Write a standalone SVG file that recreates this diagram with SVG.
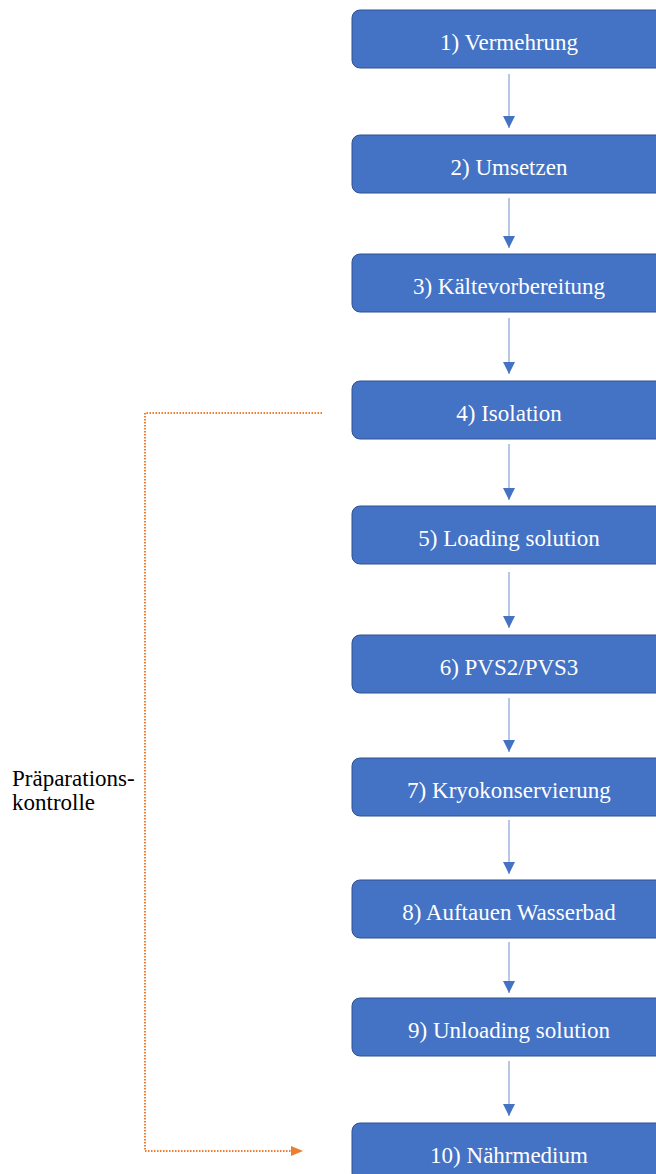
<svg xmlns="http://www.w3.org/2000/svg" width="656" height="1174" viewBox="0 0 656 1174">
<style>
.box{fill:#4472C4;stroke:#2F528F;stroke-width:1}
.lbl{fill:#FFFFFF;text-anchor:middle}
.side{fill:#000000}
.flow{stroke:#8FAADC;stroke-width:1.3;fill:none;marker-end:url(#bluehead)}
.ctrl{stroke:#ED7D31;stroke-width:2;stroke-dasharray:1.5 1.5;fill:none}
</style>
<defs>
<marker id="bluehead" markerUnits="userSpaceOnUse" markerWidth="12" markerHeight="12" viewBox="0 0 12 12" refX="12" refY="6" orient="auto">
<path d="M0,0 L12,6 L0,12 Z" fill="#4472C4"/>
</marker>
</defs>
<rect width="656" height="1174" fill="#FFFFFF"/>
<g id="connectors">
<line class="flow" x1="509" y1="74" x2="509" y2="128"/>
<line class="flow" x1="509" y1="198" x2="509" y2="248"/>
<line class="flow" x1="509" y1="318" x2="509" y2="374"/>
<line class="flow" x1="509" y1="444" x2="509" y2="500"/>
<line class="flow" x1="509" y1="572" x2="509" y2="628"/>
<line class="flow" x1="509" y1="698" x2="509" y2="752"/>
<line class="flow" x1="509" y1="820" x2="509" y2="874"/>
<line class="flow" x1="509" y1="942" x2="509" y2="993"/>
<line class="flow" x1="509" y1="1061" x2="509" y2="1116"/>
<polyline class="ctrl" points="322,413 145,413 145,1151 292,1151"/>
<path d="M291,1146 L303,1151 L291,1156 Z" fill="#ED7D31"/>
</g>
<g font-family="Liberation Serif, DejaVu Serif, serif" font-size="23">
<g id="n1"><rect class="box" x="352" y="10" width="314" height="58" rx="8"/><text class="lbl" x="509" y="50">1) Vermehrung</text></g>
<g id="n2"><rect class="box" x="352" y="135" width="314" height="58" rx="8"/><text class="lbl" x="509" y="175">2) Umsetzen</text></g>
<g id="n3"><rect class="box" x="352" y="254" width="314" height="58" rx="8"/><text class="lbl" x="509" y="294">3) Kältevorbereitung</text></g>
<g id="n4"><rect class="box" x="352" y="381" width="314" height="58" rx="8"/><text class="lbl" x="509" y="421">4) Isolation</text></g>
<g id="n5"><rect class="box" x="352" y="506" width="314" height="58" rx="8"/><text class="lbl" x="509" y="546">5) Loading solution</text></g>
<g id="n6"><rect class="box" x="352" y="635" width="314" height="58" rx="8"/><text class="lbl" x="509" y="675">6) PVS2/PVS3</text></g>
<g id="n7"><rect class="box" x="352" y="758" width="314" height="58" rx="8"/><text class="lbl" x="509" y="798">7) Kryokonservierung</text></g>
<g id="n8"><rect class="box" x="352" y="880" width="314" height="58" rx="8"/><text class="lbl" x="509" y="920">8) Auftauen Wasserbad</text></g>
<g id="n9"><rect class="box" x="352" y="998" width="314" height="58" rx="8"/><text class="lbl" x="509" y="1038">9) Unloading solution</text></g>
<g id="n10"><rect class="box" x="352" y="1123" width="314" height="58" rx="8"/><text class="lbl" x="509" y="1163">10) Nährmedium</text></g>
<g id="label"><text class="side" x="12" y="786">Präparations-</text><text class="side" x="12" y="810">kontrolle</text></g>
</g>
</svg>
